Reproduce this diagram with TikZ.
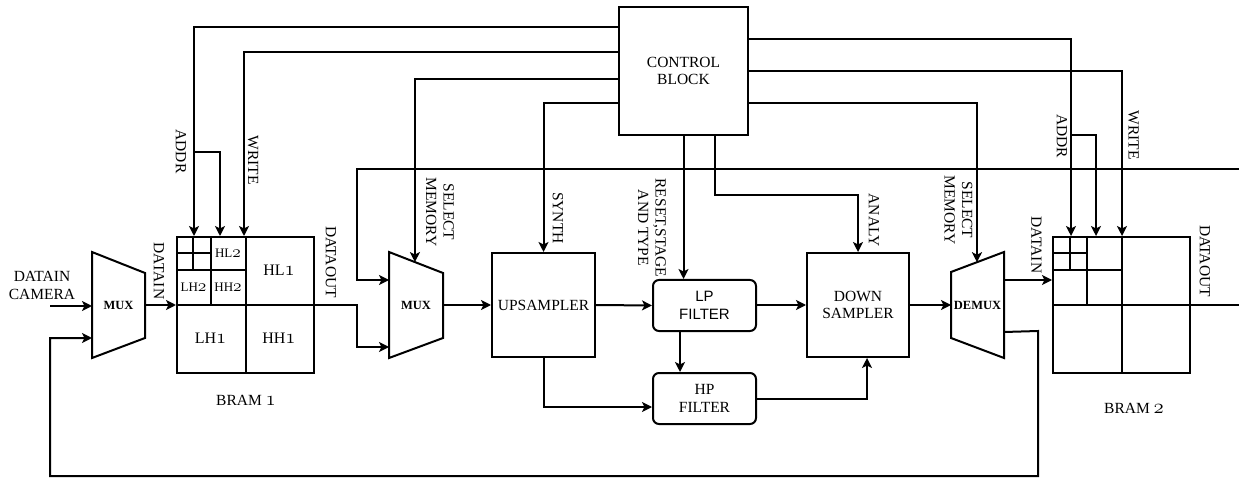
\documentclass[tikz,border=0pt]{standalone}
\usepackage{fontspec}
\setmainfont{Liberation Serif}
\newfontfamily\lpfont{Liberation Sans}
\usetikzlibrary{arrows.meta,calc}
\newcommand\osdig[2]{{\fontsize{#1}{#1}\usefont{OML}{cmm}{m}{it}#2}}
\begin{document}
\begin{tikzpicture}[x=1pt,y=-1pt,line width=2pt,
  arr/.style={-{Stealth[length=10pt,width=10pt,inset=2.5pt]}},
  lbl/.style={font=\fontsize{15.5}{17.5}\selectfont,align=center,inner sep=0pt},
  vlbl/.style={lbl,rotate=-90},
  blk/.style={draw,lbl},
  rblk/.style={draw,lbl,rounded corners=6pt},
  muxn/.style={inner sep=0pt,font=\bfseries\fontsize{12.5}{13}\selectfont},
  cell/.style={inner sep=0pt,font=\fontsize{13}{13}\selectfont},
  bigcell/.style={inner sep=0pt,font=\fontsize{16}{16}\selectfont}]
\useasboundingbox[fill=white] (0,0) rectangle (1239,478);

% ---------- blocks ----------
\node[blk,minimum width=129pt,minimum height=128pt] (ctrl) at (683.5,71) {CONTROL\\BLOCK};
\node[blk,minimum width=103pt,minimum height=104pt] (up) at (543.5,305) {UPSAMPLER};
\node[blk,minimum width=102pt,minimum height=104pt] (down) at (858,305) {DOWN\\SAMPLER};
\node[rblk,minimum width=103pt,minimum height=51pt,font=\lpfont\fontsize{15}{17.5}\selectfont] (lp) at (704.5,305.5) {LP\\FILTER};
\node[rblk,minimum width=103pt,minimum height=51pt] (hp) at (704.5,398.5) {HP\\FILTER};

% multiplexers
\node[muxn,minimum width=51pt,minimum height=104pt] (mux1) at (118.5,305) {MUX};
\draw (mux1.north west) -- ($(mux1.north east)+(0,21)$) -- ($(mux1.south east)+(0,-20)$) -- (mux1.south west) -- cycle;
\node[muxn,minimum width=52pt,minimum height=104pt] (mux2) at (416,305) {MUX};
\draw (mux2.north west) -- ($(mux2.north east)+(0,21)$) -- ($(mux2.south east)+(0,-20)$) -- (mux2.south west) -- cycle;
\node[muxn,minimum width=51pt,minimum height=104pt] (demux) at (977.5,305) {DEMUX};
\draw ($(demux.north west)+(0,20)$) -- (demux.north east) -- (demux.south east) -- ($(demux.south west)+(0,-20)$) -- cycle;

% BRAM 1
\node[draw,minimum width=137pt,minimum height=136pt,inner sep=0pt] (bram1) at (245.5,305) {};
\draw (bram1.north) -- (bram1.south);
\draw (bram1.west) -- (bram1.east);
\begin{scope}[shift={(bram1.north west)}]
  \draw (35,0) -- (35,68);
  \draw (0,34) -- (68.5,34);
  \draw (17,0) -- (17,34);
  \draw (0,17) -- (35,17);
  \node[cell] (hl2) at (52,17) {HL\osdig{17}{2}};
  \node[cell] (lh2) at (17.5,51) {LH\osdig{17}{2}};
  \node[cell] (hh2) at (52,51) {HH\osdig{17}{2}};
  \node[bigcell] (hl1) at (103,34) {HL\osdig{21}{1}};
  \node[bigcell] (lh1) at (34.5,102) {LH\osdig{21}{1}};
  \node[bigcell] (hh1) at (103,102) {HH\osdig{21}{1}};
\end{scope}
\node[lbl] (b1lbl) at (246,400) {BRAM \osdig{20}{1}};

% BRAM 2
\node[draw,minimum width=137pt,minimum height=136pt,inner sep=0pt] (bram2) at (1121.5,305) {};
\draw (bram2.north) -- (bram2.south);
\draw (bram2.west) -- (bram2.east);
\begin{scope}[shift={(bram2.north west)}]
  \draw (35,0) -- (35,68);
  \draw (0,34) -- (68.5,34);
  \draw (18,0) -- (18,34);
  \draw (0,17) -- (35,17);
\end{scope}
\node[lbl] (b2lbl) at (1134,408) {BRAM \osdig{20}{2}};

% ---------- input ----------
\node[lbl] (camlbl) at (42,285.5) {DATAIN\\CAMERA};
\coordinate (camin) at (50,306);
\draw[arr] (camin) -- (camin -| mux1.west);

% ---------- control lines to BRAM 1 ----------
\draw[arr] (ctrl.west |- 0,27) -- (194,27) -- (194,0 |- bram1.north);
\coordinate (a1) at (194,152);
\draw[arr] (a1) -| (220,0 |- bram1.north);
\draw[arr] (ctrl.west |- 0,52) -- (244,52) -- (244,0 |- bram1.north);
\node[vlbl] (addr1) at (181,151.5) {ADDR};
\node[vlbl] (write1) at (253,160) {WRITE};

% select memory to mux2
\coordinate (m2top) at ($(mux2.north west)!0.48!($(mux2.north east)+(0,21)$)$);
\draw[arr] (ctrl.west |- 0,79) -| (m2top);
\node[vlbl] (sel1) at (440,212) {SELECT\\MEMORY};

% synth
\draw[arr] (ctrl.west |- 0,103) -| (up.north);
\node[vlbl] (synth) at (558,218) {SYNTH};

% reset
\draw[arr] (ctrl.south) -- (ctrl.south |- lp.north);
\node[vlbl] (reset) at (652,228) {RESET,STAGE\\AND TYPE};

% analy
\draw[arr] (ctrl.south -| 715,0) -- (715,195) -| (down.north);
\node[vlbl] (analy) at (874,220) {ANALY};

% ---------- control lines to BRAM 2 ----------
\draw[arr] (ctrl.east |- 0,39) -| (1071,0 |- bram2.north);
\coordinate (a2) at (1071,135);
\draw[arr] (a2) -| (1096,0 |- bram2.north);
\draw[arr] (ctrl.east |- 0,71) -| (1122,0 |- bram2.north);
\node[vlbl] (addr2) at (1062,136) {ADDR};
\node[vlbl] (write2) at (1133.5,135) {WRITE};

\coordinate (dmtop) at ($($(demux.north west)+(0,20)$)!0.49!(demux.north east)$);
\draw[arr] (ctrl.east |- 0,103) -| (dmtop);
\node[vlbl] (sel2) at (958.5,210) {SELECT\\MEMORY};

% ---------- data path ----------
\draw[arr] (mux1.east) -- (bram1.west);
\node[vlbl] (din1) at (159,271) {DATAIN};
\draw[arr] (bram1.east) -- (357,305) -- (357,347) -- (357,347 -| mux2.west);
\node[vlbl] (dout1) at (331,262) {DATAOUT};
\coordinate (ret) at (1239,169);
\draw[arr] (ret) -- (357,169) -- (357,280) -- (357,280 -| mux2.west);
\draw[arr] (mux2.east) -- (up.west);
\draw[arr] (up.east) -- (lp.west);
\draw[arr] (680,0 |- lp.south) -- (680,0 |- hp.north);
\draw[arr] (up.south) |- (hp.west |- 0,407);
\draw[arr] (hp.east) -| (867,0 |- down.south);
\draw[arr] (lp.east |- down.west) -- (down.west);
\draw[arr] (down.east) -- (demux.west);
\coordinate (dmo) at ($(demux.north east)+(0,28)$);
\draw[arr] (dmo) -- (dmo -| bram2.west);
\node[vlbl] (din2) at (1036.5,245) {DATAIN};
\coordinate (bout) at (1239,305);
\draw (bram2.east) -- (bout);
\node[vlbl] (dout2) at (1205,261) {DATAOUT};

% feedback
\coordinate (dml) at ($(demux.south east)+(0,-26)$);
\draw[arr] (dml) -- (1038,331) -- (1038,476) -- (50,476) -- (50,338) -- (50,338 -| mux1.west);
\end{tikzpicture}
\end{document}
